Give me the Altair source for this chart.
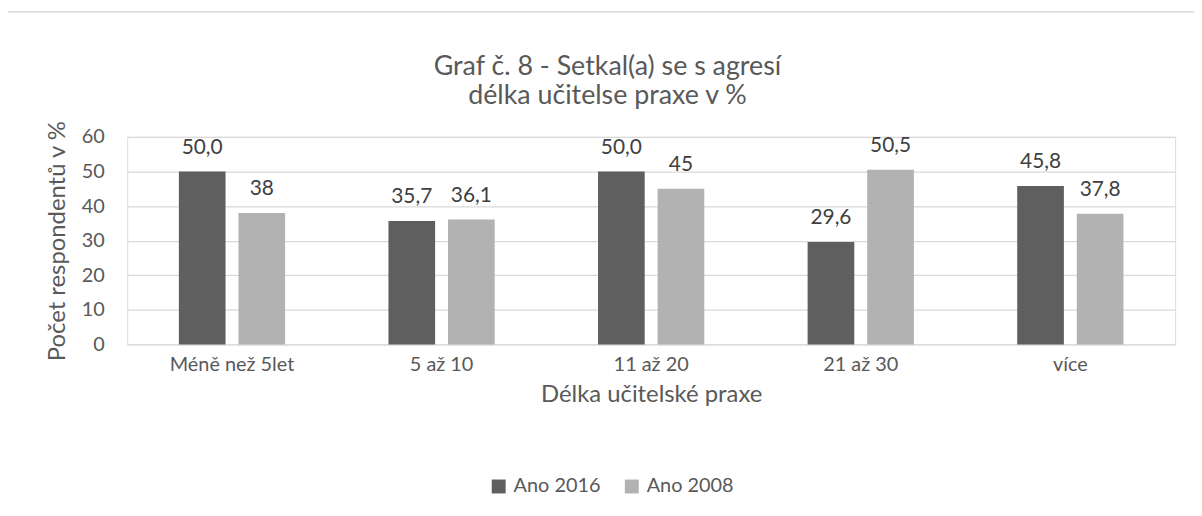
import altair as alt
import pandas as pd

categories = ["Méně než 5let", "5 až 10", "11 až 20", "21 až 30", "více"]
series = ["Ano 2016", "Ano 2008"]
values_2016 = [50.0, 35.7, 50.0, 29.6, 45.8]
values_2008 = [38.0, 36.1, 45.0, 50.5, 37.8]
labels_2016 = ["50,0", "35,7", "50,0", "29,6", "45,8"]
labels_2008 = ["38", "36,1", "45", "50,5", "37,8"]
colors = ["#5f5f5f", "#b2b2b2"]
y_ticks = [0, 10, 20, 30, 40, 50, 60]
title_lines = ["Graf č. 8 - Setkal(a) se s agresí", "délka učitelse praxe v %"]

rows = []
for i, c in enumerate(categories):
    rows.append({"cat": c, "series": series[0], "value": values_2016[i], "label": labels_2016[i]})
    rows.append({"cat": c, "series": series[1], "value": values_2008[i], "label": labels_2008[i]})
df = pd.DataFrame(rows)

FONT = "Lato"
TXT = "#595959"
W, H = 1055, 209

base = alt.Chart(df).encode(
    x=alt.X(
        "cat:N",
        sort=categories,
        scale=alt.Scale(paddingInner=0.493, paddingOuter=0.2465),
        axis=alt.Axis(
            title="Délka učitelské praxe",
            labelAngle=0,
            ticks=False,
            domain=False,
            grid=False,
            labelFont=FONT,
            labelFontSize=20,
            labelColor=TXT,
            labelPadding=10,
            titleFont=FONT,
            titleFontSize=24,
            titleFontWeight="normal",
            titleColor=TXT,
            titlePadding=8,
        ),
    ),
    xOffset=alt.XOffset("series:N", sort=series, scale=alt.Scale(paddingInner=0.2167, paddingOuter=0)),
    y=alt.Y(
        "value:Q",
        scale=alt.Scale(domain=[0, 60], nice=False),
        axis=alt.Axis(
            title="Počet respondentů v %",
            values=y_ticks,
            ticks=False,
            domain=False,
            grid=True,
            gridColor="#d9d9d9",
            gridWidth=1.3,
            labelFont=FONT,
            labelFontSize=20,
            labelColor=TXT,
            labelPadding=23,
            titleFont=FONT,
            titleFontSize=24,
            titleFontWeight="normal",
            titleColor=TXT,
            titlePadding=12,
        ),
    ),
)

bars = base.mark_bar().encode(
    color=alt.Color(
        "series:N",
        sort=series,
        scale=alt.Scale(domain=series, range=colors),
        legend=alt.Legend(
            title=None,
            orient="none",
            legendX=364,
            legendY=342,
            direction="horizontal",
            symbolType="square",
            symbolSize=196,
            symbolStrokeWidth=0,
            labelFont=FONT,
            labelFontSize=20,
            labelColor=TXT,
            labelOffset=5,
            columnPadding=21,
        ),
    )
)

text = base.mark_text(dy=-18, baseline="alphabetic", fontSize=21, font=FONT, color="#404040").encode(
    text="label:N"
)

border = alt.Chart(pd.DataFrame({"a": [0]})).mark_rect(
    fillOpacity=0, stroke="#d9d9d9", strokeWidth=1.5, clip=False
).encode(
    x=alt.value(-121), x2=alt.value(1110), y=alt.value(-126), y2=alt.value(420)
)

chart = alt.layer(border, bars, text).properties(
    width=W,
    height=H,
    title=alt.TitleParams(
        title_lines,
        font=FONT,
        fontSize=27,
        fontWeight="normal",
        color=TXT,
        anchor="middle",
        frame="group",
        baseline="alphabetic",
        dx=-44,
        offset=-121,
        lineHeight=30,
    ),
    autosize=alt.AutoSizeParams(type="none"),
    padding={"left": 120, "top": 128, "right": 19, "bottom": 171},
).configure_view(stroke=None).configure(font=FONT)

chart.save("out.html", embed_options={"renderer": "svg", "actions": False})
